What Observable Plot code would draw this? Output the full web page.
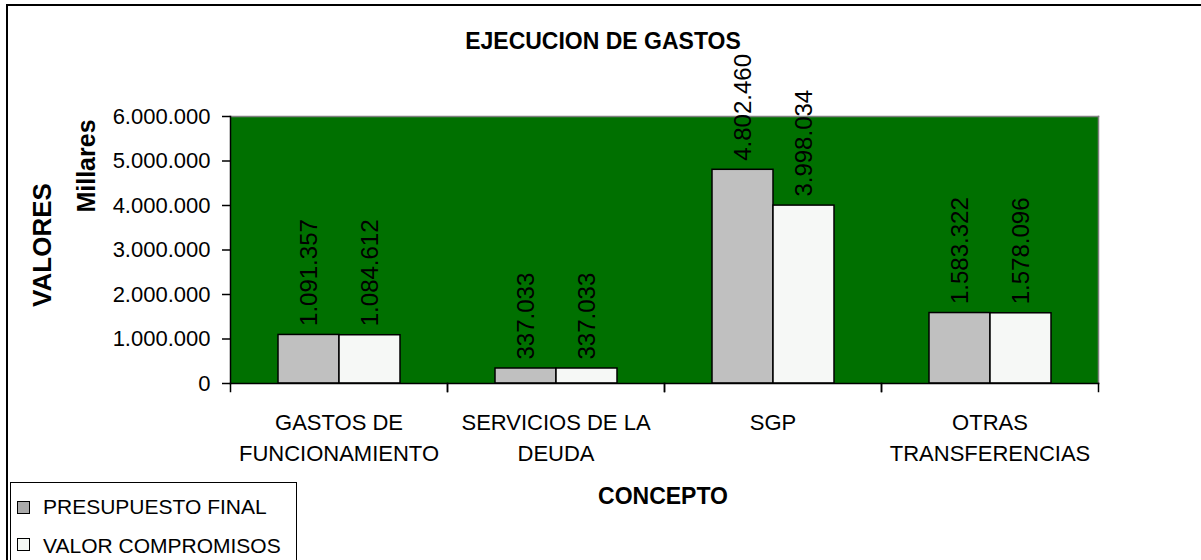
<!DOCTYPE html>
<html><head><meta charset="utf-8">
<script src="https://cdn.jsdelivr.net/npm/d3@7"></script>
<script src="https://cdn.jsdelivr.net/npm/@observablehq/plot@0.6"></script>
<style>
body{margin:0;background:#fff;font-family:"Liberation Sans",Arial,sans-serif;color:#000;}
#wrap{position:relative;width:1201px;height:560px;overflow:hidden;background:#fff;}
#chart{position:absolute;left:0;top:0;}
#border{position:absolute;left:6px;top:4px;width:1300px;height:700px;border-top:2px solid #000;border-left:2px solid #000;pointer-events:none;}
.lbl{position:absolute;font-weight:bold;white-space:nowrap;line-height:1;}
#legend{position:absolute;left:10px;top:482px;width:287px;height:100px;border:1px solid #000;background:#fff;box-sizing:border-box;}
.sw{position:absolute;width:11px;height:11px;border:1px solid #000;left:6px;}
.lt{position:absolute;left:32px;font-size:21px;line-height:1;white-space:nowrap;}
</style></head>
<body>
<div id="wrap">
  <div id="chart"></div>
  <div id="border"></div>
  <div class="lbl" id="title" style="left:603px;top:30px;font-size:23px;transform:translateX(-50%);">EJECUCION DE GASTOS</div>
  <div class="lbl" id="yl1" style="left:42px;top:245px;font-size:26px;transform:translate(-50%,-50%) rotate(-90deg);">VALORES</div>
  <div class="lbl" id="yl2" style="left:86px;top:166px;font-size:25px;transform:translate(-50%,-50%) rotate(-90deg);">Millares</div>
  <div class="lbl" id="xl" style="left:663px;top:485px;font-size:23px;transform:translateX(-50%);">CONCEPTO</div>
  <div id="legend"></div>
</div>
<script>
const categories = ["GASTOS DE FUNCIONAMIENTO", "SERVICIOS DE LA DEUDA", "SGP", "OTRAS TRANSFERENCIAS"];
const categoryLabels = ["GASTOS DE\nFUNCIONAMIENTO", "SERVICIOS DE LA\nDEUDA", "SGP", "OTRAS\nTRANSFERENCIAS"];
const series = ["PRESUPUESTO FINAL", "VALOR COMPROMISOS"];
const presupuestoFinal = [1091357, 337033, 4802460, 1583322];
const valorCompromisos = [1084612, 337033, 3998034, 1578096];
const yTicks = [0, 1000000, 2000000, 3000000, 4000000, 5000000, 6000000];
const seriesColors = ["#c0c0c0", "#f6f8f6"];
const legendSwatch = ["#a9a9a9", "#f4f8f4"];

const fmt = d3.formatLocale({decimal: ",", thousands: ".", grouping: [3], currency: ["$", ""]}).format(",d");
const data = categories.flatMap((c, i) => [
  {cat: c, serie: series[0], value: presupuestoFinal[i]},
  {cat: c, serie: series[1], value: valorCompromisos[i]}
]);
const labelOf = new Map(categories.map((c, i) => [c, categoryLabels[i]]));

const W = 1201, H = 560, mT = 116, mR = 102, mB = 177, mL = 229;
const plotH = H - mT - mB;

const chart = Plot.plot({
  width: W, height: H,
  marginTop: mT, marginRight: mR, marginBottom: mB, marginLeft: mL,
  style: {fontFamily: '"Liberation Sans", Arial, sans-serif', background: "transparent", color: "#000", overflow: "visible"},
  fx: {domain: categories, padding: 0, label: null},
  x: {domain: series, paddingInner: 0, paddingOuter: 0.754, axis: null},
  y: {domain: [0, 6000000], label: null},
  color: {domain: series, range: seriesColors},
  marks: [
    Plot.frame({fill: "#007000", facet: "super"}),
    Plot.frame({anchor: "top", stroke: "#808080", strokeWidth: 1.5, facet: "super"}),
    Plot.frame({anchor: "right", stroke: "#808080", strokeWidth: 1.5, facet: "super"}),
    Plot.frame({anchor: "left", insetTop: plotH, insetBottom: -8, stroke: "#000", strokeWidth: 1.5}),
    Plot.frame({anchor: "right", insetTop: plotH, insetBottom: -8, stroke: "#000", strokeWidth: 1.5}),
    Plot.barY(data, {fx: "cat", x: "serie", y: "value", fill: "serie", stroke: "#000", strokeWidth: 1.5}),
    Plot.frame({anchor: "left", stroke: "#000", strokeWidth: 1.5, facet: "super"}),
    Plot.frame({anchor: "bottom", stroke: "#000", strokeWidth: 1.5, facet: "super"}),
    Plot.axisY({ticks: yTicks, tickFormat: fmt, tickSize: 8, tickPadding: 12, fontSize: 22, label: null, strokeWidth: 1.5}),
    Plot.axisFx({anchor: "bottom", tickSize: 0, tickPadding: 24, fontSize: 22, lineHeight: 1.41, tickFormat: c => labelOf.get(c), label: null}),
    Plot.text(data, {fx: "cat", x: "serie", y: "value", text: d => fmt(d.value), rotate: -90, textAnchor: "start", lineAnchor: "middle", dy: -9, fontSize: 24, fill: "#000"})
  ]
});
document.getElementById("chart").appendChild(chart);

const legend = document.getElementById("legend");
const swTops = [18, 55], txtTops = [13, 52];
series.forEach((s, i) => {
  const sw = document.createElement("div");
  sw.className = "sw"; sw.style.top = swTops[i] + "px"; sw.style.background = legendSwatch[i];
  const t = document.createElement("div");
  t.className = "lt"; t.style.top = txtTops[i] + "px"; t.textContent = s;
  legend.appendChild(sw); legend.appendChild(t);
});
</script>
</body></html>
